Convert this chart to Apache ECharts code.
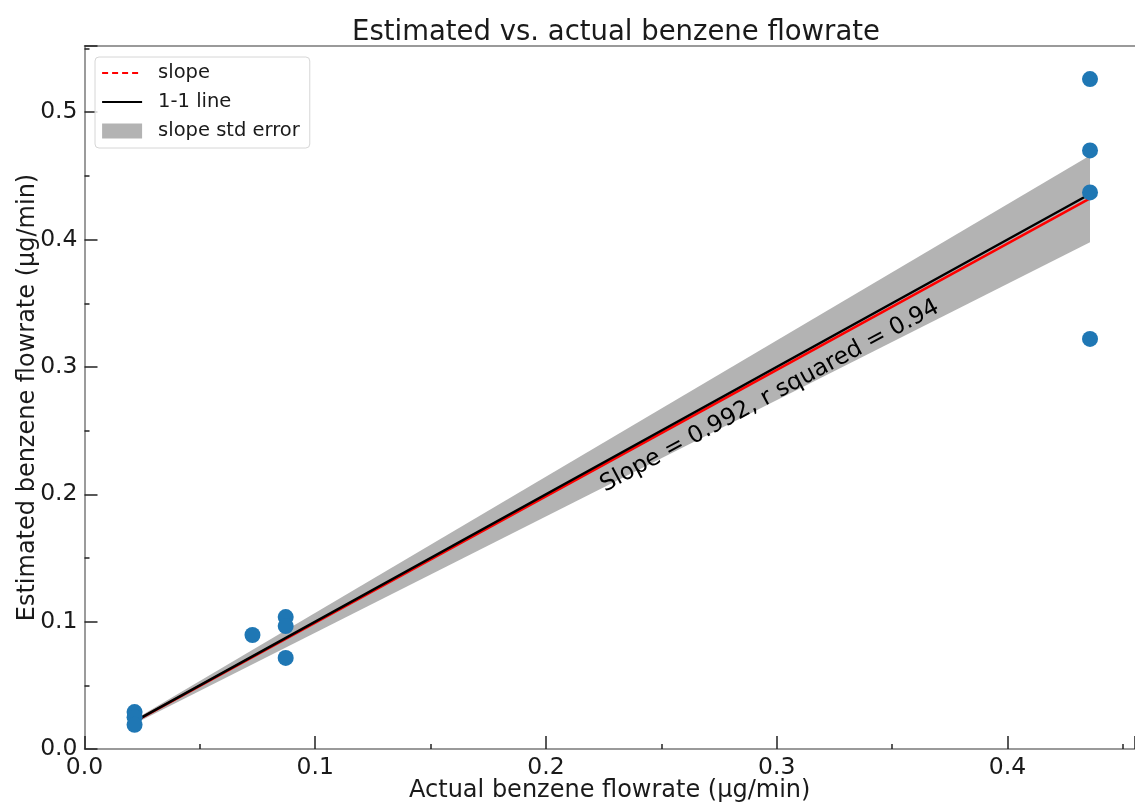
<!DOCTYPE html>
<html>
<head>
<meta charset="utf-8">
<script src="https://cdn.jsdelivr.net/npm/echarts@6/dist/echarts.min.js"></script>
<style>html,body{margin:0;padding:0;background:#fff}#c{width:1135px;height:804px}</style>
</head>
<body>
<div id="c"></div>
<script>
// Data
const actualX = [0.0217, 0.0217, 0.0217, 0.0728, 0.0872, 0.0872, 0.0872, 0.4358, 0.4358, 0.4358, 0.4358];
const estimatedY = [0.029, 0.025, 0.019, 0.0895, 0.1036, 0.0965, 0.0715, 0.526, 0.470, 0.437, 0.322];
const lineX = [0.0217, 0.4358];
const oneToOneY = [0.0217, 0.4358];
const slopeY = [0.0215, 0.4323];
const bandLow = [0.0198, 0.398];
const bandHigh = [0.0232, 0.466];
const annotation = {x: 0.297, y: 0.277, text: 'Slope = 0.992, r squared = 0.94'};
const xTicks = [0.0, 0.1, 0.2, 0.3, 0.4];
const yTicks = [0.0, 0.1, 0.2, 0.3, 0.4, 0.5];

const FONT = 'DejaVu Sans';
const chart = echarts.init(document.getElementById('c'), null, {renderer: 'canvas'});

const axisCommon = {
  type: 'value',
  interval: 0.1,
  axisLine: {show: true, lineStyle: {color: '#7a7a7a', width: 1.5}},
  axisTick: {show: true, inside: true, length: 13, lineStyle: {color: '#222', width: 1.5}},
  minorTick: {show: true, splitNumber: 2, length: 5, lineStyle: {color: '#222', width: 1.5}},
  splitLine: {show: false},
  minorSplitLine: {show: false},
  axisLabel: {
    show: true, fontFamily: FONT, fontSize: 23.5, color: '#1a1a1a', margin: 7,
    showMaxLabel: false,
    formatter: v => v.toFixed(1)
  },
  nameLocation: 'middle',
  nameMoveOverlap: false,
  nameTextStyle: {fontFamily: FONT, fontSize: 24, color: '#1a1a1a'}
};

const bandData = lineX.map((x, i) => [x, bandLow[i], bandHigh[i]]);
const hiddenSymbol = {color: 'rgba(0,0,0,0)', opacity: 0, borderWidth: 0};

chart.setOption({
  animation: false,
  backgroundColor: '#fff',
  title: {
    text: 'Estimated vs. actual benzene flowrate',
    left: 611, top: 14, textAlign: 'center',
    textStyle: {fontFamily: FONT, fontSize: 27.5, fontWeight: 'normal', color: '#1a1a1a'}
  },
  grid: {left: 84.5, right: 0, top: 46, bottom: 55, outerBoundsMode: 'none', containLabel: false},
  legend: {
    orient: 'vertical', left: 95, top: 57,
    padding: [6, 10, 7, 6],
    itemWidth: 40, itemHeight: 15, itemGap: 9,
    backgroundColor: 'rgba(255,255,255,0.8)',
    borderColor: '#d6d6d6', borderWidth: 1, borderRadius: 4,
    textStyle: {fontFamily: FONT, fontSize: 19.5, color: '#1a1a1a', padding: [0, 0, 0, 11]},
    data: [
      {name: 'slope', itemStyle: hiddenSymbol, lineStyle: {type: [6, 4], color: '#ff0000', width: 2}},
      {name: '1-1 line', itemStyle: hiddenSymbol, lineStyle: {color: '#000', width: 2.2}},
      {name: 'slope std error', icon: 'rect', itemStyle: {color: '#b3b3b3'}}
    ]
  },
  xAxis: [
    Object.assign({}, axisCommon, {
      min: 0, max: 0.4553,
      name: 'Actual benzene flowrate (µg/min)', nameGap: 30
    }),
    {
      type: 'value', position: 'top', min: 0, max: 0.4553,
      axisLine: {show: true, onZero: false, lineStyle: {color: '#7a7a7a', width: 1.5}},
      axisTick: {show: false}, axisLabel: {show: false}, splitLine: {show: false}
    }
  ],
  yAxis: Object.assign({}, axisCommon, {
    min: 0, max: 0.552,
    name: 'Estimated benzene flowrate (µg/min)', nameGap: 45
  }),
  series: [
    {
      name: 'slope std error', type: 'custom', z: 1,
      itemStyle: {color: '#b3b3b3'},
      data: [0],
      renderItem: function (params, api) {
        const pts = [];
        bandData.forEach(d => pts.push(api.coord([d[0], d[2]])));
        bandData.slice().reverse().forEach(d => pts.push(api.coord([d[0], d[1]])));
        return {type: 'polygon', shape: {points: pts}, style: {fill: '#b3b3b3'}};
      },
      silent: true
    },
    {
      name: 'slope', type: 'line', z: 3, symbol: 'none',
      data: lineX.map((x, i) => [x, slopeY[i]]),
      lineStyle: {color: '#ff0000', width: 2.5},
      itemStyle: {color: '#ff0000'},
      silent: true
    },
    {
      name: '1-1 line', type: 'line', z: 4, symbol: 'none',
      data: lineX.map((x, i) => [x, oneToOneY[i]]),
      lineStyle: {color: '#000000', width: 2.5},
      itemStyle: {color: '#000000'},
      silent: true
    },
    {
      name: 'data', type: 'scatter', z: 6, symbolSize: 16,
      itemStyle: {color: '#1f77b4', opacity: 1},
      data: actualX.map((x, i) => [x, estimatedY[i]])
    },
    {
      name: 'annotation', type: 'scatter', z: 5, symbolSize: 0, silent: true,
      itemStyle: {opacity: 1},
      data: [[annotation.x, annotation.y]],
      label: {
        show: true, position: 'inside', rotate: 28.3, opacity: 1,
        formatter: annotation.text,
        fontFamily: FONT, fontSize: 23.5, color: '#000'
      }
    }
  ]
});
</script>
</body>
</html>
